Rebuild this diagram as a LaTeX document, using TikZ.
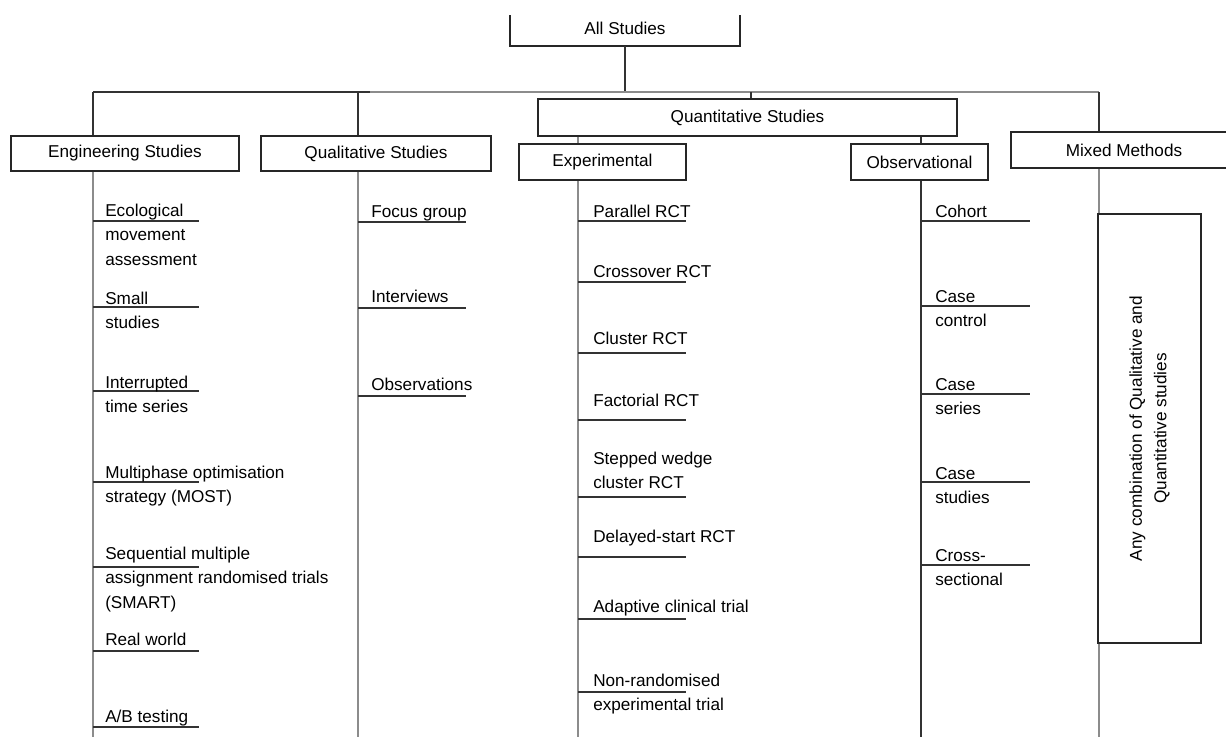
\documentclass[tikz,border=0pt]{standalone}
\usepackage{fontspec}
\setmainfont{Liberation Sans}
\usepackage{tikz}

\tikzset{
  box/.style={draw=black!85, line width=1.1pt, inner sep=0pt, minimum height=0.9cm},
  link/.style={draw=black!80, line width=1.1pt},
  trunk/.style={draw=black!45, line width=1.1pt},
  item/.style={anchor=base west, inner sep=0pt, align=left},
}

\begin{document}
\begin{tikzpicture}[x=0.025cm, y=-0.025cm, font=\fontsize{12.2}{17.4}\selectfont]
    \useasboundingbox (0,0) rectangle (1226,737);
    \clip (0,0) rectangle (1226,737);

    % top box, cut off at the top
    \node (all) at (625,28) {All Studies};
    \draw[box] (510,15) |- (740,46) -- (740,15);
    \coordinate (allB) at (625,46);

    % bus and drop points
    \coordinate (busL)   at (93,92);
    \coordinate (qualX)  at (358,92);
    \coordinate (quantX) at (751,92);
    \coordinate (busR)   at (1099,92);

    % second level
    \node[box, minimum width=5.7cm,  minimum height=0.875cm] (eng)   at (125,153.5) {Engineering Studies};
    \node[box, minimum width=5.75cm, minimum height=0.875cm] (qual)  at (376,153.5) {Qualitative Studies};
    \node[box, minimum width=10.475cm, minimum height=0.925cm] (quant) at (747.5,117.5) {Quantitative Studies};
    \node[box, minimum width=4.175cm] (exper) at (602.5,162) {Experimental};
    \node[box, minimum width=3.425cm] (obser) at (919.5,162) {Observational};
    \node[box, minimum width=5.65cm]  (mixed) at (1124,150) {Mixed Methods};

    % trunk ends at the bottom
    \coordinate (engE)   at (93,737);
    \coordinate (qualE)  at (358,737);
    \coordinate (experE) at (578,737);
    \coordinate (obserE) at (921,737);
    \coordinate (mixedE) at (1099,737);

    \draw[link] (allB) -- (allB |- busL);
    \draw[link] (busL) -- (qualX) -- ++(12,0);
    \draw[trunk] (qualX) ++(12,0) -- (busR);
    \draw[link] (busL) -- (busL |- eng.north);
    \draw[link] (qualX) -- (qualX |- qual.north);
    \draw[link] (quantX) -- (quantX |- quant.north);
    \draw[link] (busR) -- (busR |- mixed.north);
    \draw[trunk] (experE |- quant.south) -- (experE |- exper.north);
    \draw[link] (obserE |- quant.south) -- (obserE |- obser.north);

    \draw[trunk] (engE |- eng.south) -- (engE);
    \draw[trunk] (qualE |- qual.south) -- (qualE);
    \draw[trunk] (experE |- exper.south) -- (experE);
    \draw[link] (obserE |- obser.south) -- (obserE);
    \draw[trunk] (mixedE |- mixed.south) -- (mixedE);

    \node[box, rotate=90, minimum width=10.725cm, minimum height=2.575cm, align=center, fill=white]
        (anycomb) at (1149.5,428.5) {Any combination of Qualitative and\\Quantitative studies};

    % engineering studies (\b = baseline of the last text line)
    \foreach \t/\b/\txt [count=\i] in {221/265/{Ecological\\movement\\assessment},
        307/328.5/{Small\\studies}, 391/412.5/{Interrupted\\time series},
        482/502.5/{Multiphase optimisation\\strategy (MOST)},
        567/608/{Sequential multiple\\assignment randomised trials\\(SMART)},
        651/645/{Real world}, 727/722/{A/B testing}} {
      \coordinate (engt\i) at (199,\t);
      \draw[link] (engt\i -| engE) -- (engt\i);
      \node[item] (engi\i) at (105,\b) {\txt};
    }

    % qualitative studies
    \foreach \t/\b/\txt [count=\i] in {222/217/{Focus group}, 308/302/{Interviews},
        396/390/{Observations}} {
      \coordinate (qualt\i) at (466,\t);
      \draw[link] (qualt\i -| qualE) -- (qualt\i);
      \node[item] (quali\i) at (371,\b) {\txt};
    }

    % experimental
    \foreach \t/\b/\txt [count=\i] in {221/217/{Parallel RCT}, 282/277/{Crossover RCT},
        353/344/{Cluster RCT}, 420/406/{Factorial RCT},
        497/488.5/{Stepped wedge\\cluster RCT}, 557/542/{Delayed-start RCT},
        619/612/{Adaptive clinical trial}, 692/710.5/{Non-randomised\\experimental trial}} {
      \coordinate (expert\i) at (686,\t);
      \draw[link] (expert\i -| experE) -- (expert\i);
      \node[item] (experi\i) at (593,\b) {\txt};
    }

    % observational
    \foreach \t/\b/\txt [count=\i] in {221/217/{Cohort}, 306/326.5/{Case\\control},
        394/414.5/{Case\\series}, 482/503.5/{Case\\studies}, 565/585.5/{Cross-\\sectional}} {
      \coordinate (obsert\i) at (1030,\t);
      \draw[link] (obsert\i -| obserE) -- (obsert\i);
      \node[item] (obseri\i) at (935,\b) {\txt};
    }
\end{tikzpicture}
\end{document}
